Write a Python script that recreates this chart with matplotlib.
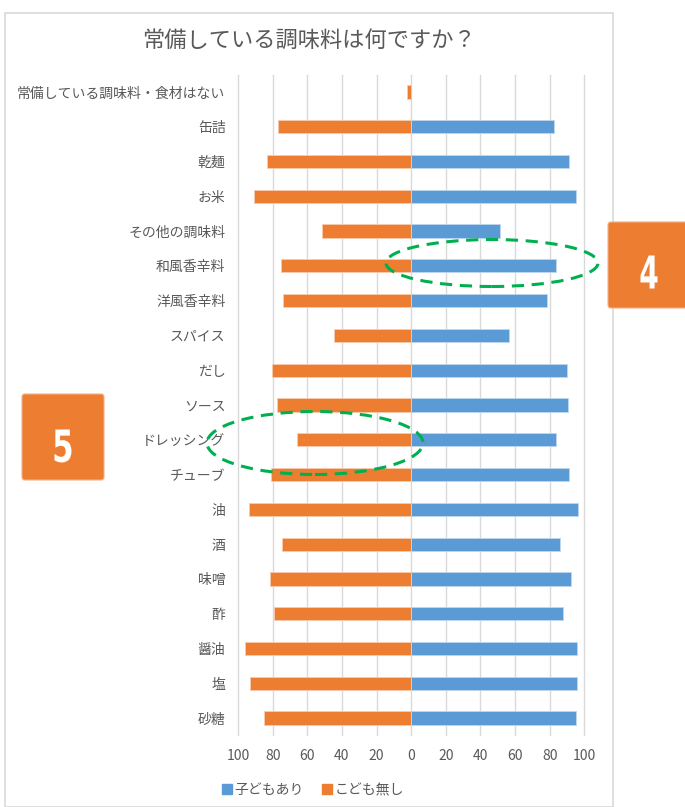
import matplotlib
matplotlib.use("Agg")
import matplotlib.pyplot as plt
from matplotlib.patches import Rectangle, Ellipse, FancyBboxPatch, PathPatch
from matplotlib.textpath import TextPath
from matplotlib.font_manager import FontProperties
from matplotlib.transforms import Affine2D
import numpy as np

plt.rcParams['font.family'] = ['Noto Sans CJK JP', 'DejaVu Sans']

# 上から順に
categories = ["常備している調味料・食材はない", "缶詰", "乾麺", "お米", "その他の調味料",
              "和風香辛料", "洋風香辛料", "スパイス", "だし", "ソース", "ドレッシング",
              "チューブ", "油", "酒", "味噌", "酢", "醤油", "塩", "砂糖"]
with_kids = [0, 82.5, 91.3, 95, 51.5, 83.4, 78.4, 56.7, 89.8, 90.4, 83.4,
             91.3, 96.5, 86.1, 92.5, 87.9, 95.8, 95.8, 95.4]
no_kids = [2.3, 77, 83, 91, 51.6, 75.3, 73.8, 44.3, 80.1, 77.4, 66,
           81, 93.8, 74.3, 81.3, 79.4, 96.1, 93.2, 85]
xticks = [-100, -80, -60, -40, -20, 0, 20, 40, 60, 80, 100]

blue = "#5B9BD5"
orange = "#ED7D31"
gray_txt = "#595959"
grid_c = "#D9D9D9"

W, H = 685, 807
fig = plt.figure(figsize=(W / 100, H / 100), dpi=100)

# チャート枠
fig.patches.append(Rectangle((5 / W, 0), 608 / W, 1 - 13 / H, transform=fig.transFigure,
                             fill=False, edgecolor=grid_c, linewidth=1.2))

ax = fig.add_axes([238 / W, 1 - 735.4 / H, 346.3 / W, (735.4 - 74.6) / H])
y = np.arange(len(categories))
ax.barh(y, with_kids, height=0.38, color=blue, edgecolor="#BDD7EE", linewidth=0.6, zorder=3)
ax.barh(y, [-v for v in no_kids], height=0.38, color=orange, edgecolor="#F8CBAD", linewidth=0.6, zorder=3)

ax.set_xlim(-100, 100)
ax.set_ylim(len(categories) - 0.5, -0.5)
ax.set_xticks(xticks)
ax.set_xticklabels([str(abs(t)) for t in xticks], color=gray_txt, fontsize=10)
ax.set_yticks(y)
ax.set_yticklabels(categories, color=gray_txt, fontsize=10)
ax.tick_params(axis='y', length=0, pad=9)
ax.tick_params(axis='x', length=0, pad=10)
for s in ax.spines.values():
    s.set_visible(False)
for t in xticks:
    ax.axvline(t, color=grid_c, linewidth=1, zorder=1, clip_on=False)

fig.text(309 / W, 1 - 40 / H, "常備している調味料は何ですか？", ha="center", va="center",
         fontsize=16, color=gray_txt)

h1 = plt.Line2D([], [], marker="s", linestyle="", color=blue, markersize=7)
h2 = plt.Line2D([], [], marker="s", linestyle="", color=orange, markersize=7)
leg = fig.legend([h1, h2], ["子どもあり", "こども無し"], loc="center", ncol=2,
                 bbox_to_anchor=(312 / W, 1 - 790 / H), frameon=False, fontsize=10,
                 handletextpad=0.05, columnspacing=1.2, handlelength=1.0)
for t in leg.get_texts():
    t.set_color(gray_txt)

# 注釈（楕円と番号ボックス）
for (cx, cy, w, h) in [(492, 263, 212, 47), (315, 443, 216, 63)]:
    fig.patches.append(Ellipse((cx / W, 1 - cy / H), w / W, h / H, transform=fig.transFigure,
                               fill=False, edgecolor="#00B050", linewidth=2.2,
                               linestyle=(0, (4, 2.5)), zorder=10))

for (x0, y0, w, h) in [(608, 222, 90, 86), (22, 394, 82, 86)]:
    fig.patches.append(FancyBboxPatch((x0 / W, 1 - (y0 + h) / H), w / W, h / H,
                                      boxstyle="round,pad=0,rounding_size=0.004",
                                      transform=fig.transFigure, facecolor=orange,
                                      edgecolor="#F4B183", linewidth=0.8, zorder=10))

# 縦長の数字
fp = FontProperties(family="DejaVu Sans", weight="bold")
for (label, cx, cy) in [("4", 649, 272), ("5", 63, 446)]:
    tp = TextPath((0, 0), label, size=1, prop=fp)
    ext = tp.get_extents()
    sx = 17 / ext.width
    sy = 33 / ext.height
    tr = (Affine2D().translate(-ext.x0 - ext.width / 2, -ext.y0 - ext.height / 2)
          .scale(sx, sy).translate(cx, H - cy))
    fig.patches.append(PathPatch(tr.transform_path(tp), facecolor="white", edgecolor="none",
                                 transform=None, zorder=11))

fig.savefig("out.png", dpi=100)
